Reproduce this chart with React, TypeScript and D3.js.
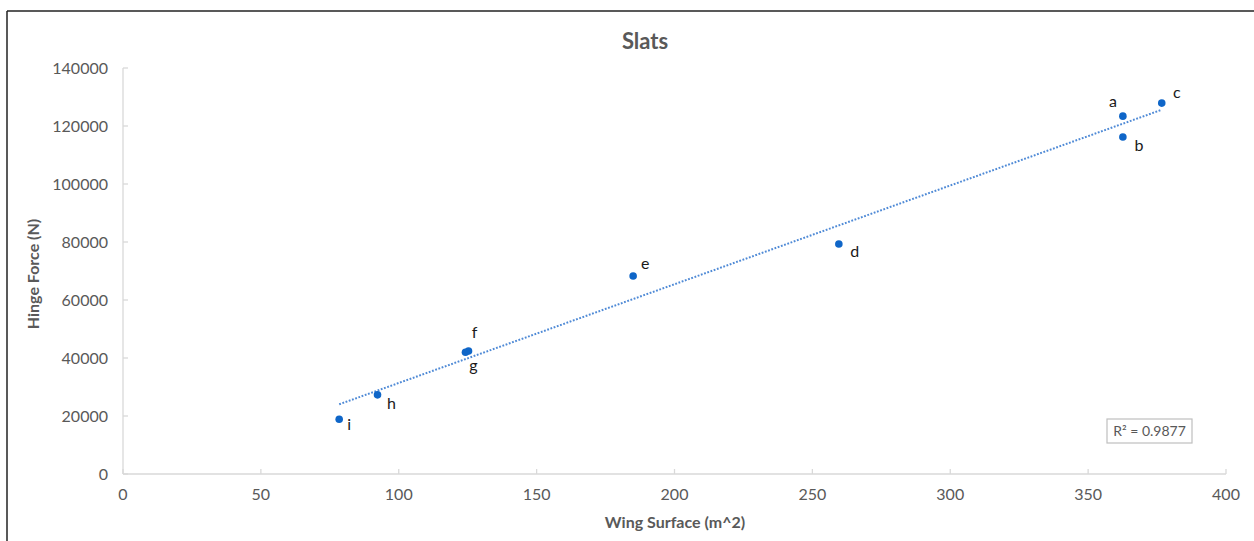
import React from "react";
import * as d3 from "d3";

const labels = ["a", "b", "c", "d", "e", "f", "g", "h", "i"];
const wingSurface = [362.6, 362.6, 376.7, 259.6, 185, 125.3, 124.2, 92.3, 78.4];
const hingeForce = [123400, 116200, 127900, 79300, 68300, 42400, 42000, 27300, 18900];
const xTicks = [0, 50, 100, 150, 200, 250, 300, 350, 400];
const yTicks = [0, 20000, 40000, 60000, 80000, 100000, 120000, 140000];
// label placement relative to point: [dx, dy]
const labelOffsets: [number, number][] = [
  [-10, -9], [16, 14], [15, -5], [16, 13], [12, -7], [6, -13], [8, 19], [14, 14], [10, 11],
];
const r2Text = "R² = 0.9877";

const W = 1254, H = 541;
const FONT = "Lato, 'Open Sans', sans-serif";
const GRAY = "#595959";

export default function App() {
  const x = d3.scaleLinear().domain([0, 400]).range([123, 1226]);
  const y = d3.scaleLinear().domain([0, 140000]).range([474, 68]);

  const pts = labels.map((l, i) => ({ l, x: wingSurface[i], y: hingeForce[i], o: labelOffsets[i] }));
  const mx = d3.mean(wingSurface)!;
  const my = d3.mean(hingeForce)!;
  let sxy = 0, sxx = 0;
  pts.forEach(p => { sxy += (p.x - mx) * (p.y - my); sxx += (p.x - mx) ** 2; });
  const slope = sxy / sxx;
  const icpt = my - slope * mx;
  const [x0, x1] = d3.extent(wingSurface) as [number, number];
  const trend = d3.line<number>().x(v => x(v)).y(v => y(icpt + slope * v))([x0, x1])!;

  return (
    <svg width={W} height={H} style={{ position: "absolute", left: 0, top: 0, background: "#fff" }}>
      <rect x={0} y={0} width={W} height={H} fill="#fff" />
      {/* outer border: top and left visible */}
      <line x1={7} y1={11} x2={W} y2={11} stroke="#222" strokeWidth={1.5} />
      <line x1={7} y1={11} x2={7} y2={H} stroke="#222" strokeWidth={1.5} />

      <text x={645} y={49} textAnchor="middle" fontFamily={FONT} fontWeight="bold" fontSize={22} fill={GRAY}>Slats</text>

      {/* axes */}
      <line x1={x(0)} y1={y(0)} x2={x(400)} y2={y(0)} stroke="#d9d9d9" strokeWidth={1.3} />
      <line x1={x(0)} y1={y(0)} x2={x(0)} y2={y(140000)} stroke="#d9d9d9" strokeWidth={1.3} />
      {xTicks.map(t => (
        <g key={"x" + t}>
          <line x1={x(t)} x2={x(t)} y1={y(0)} y2={y(0) - 5} stroke="#d9d9d9" strokeWidth={1.3} />
          <text x={x(t)} y={y(0) + 26} textAnchor="middle" fontFamily={FONT} fontSize={16} fill={GRAY}>{t}</text>
        </g>
      ))}
      {yTicks.map(t => (
        <g key={"y" + t}>
          <line x1={x(0)} x2={x(0) + 5} y1={y(t)} y2={y(t)} stroke="#d9d9d9" strokeWidth={1.3} />
          <text x={x(0) - 15} y={y(t) + 5.5} textAnchor="end" fontFamily={FONT} fontSize={16} fill={GRAY}>{t}</text>
        </g>
      ))}

      <text x={675} y={528} textAnchor="middle" fontFamily={FONT} fontWeight="bold" fontSize={16} fill={GRAY}>Wing Surface (m^2)</text>
      <text transform="translate(39,274) rotate(-90)" textAnchor="middle" fontFamily={FONT} fontWeight="bold" fontSize={16} fill={GRAY}>Hinge Force (N)</text>

      {/* trendline */}
      <path d={trend} fill="none" stroke="#4f8ad6" strokeWidth={2} strokeDasharray="1.8 1.6" />

      {/* points */}
      {pts.map(p => (
        <g key={p.l}>
          <circle cx={x(p.x)} cy={y(p.y)} r={3.8} fill="#0f66c8" />
          <text x={x(p.x) + p.o[0]} y={y(p.y) + p.o[1]} textAnchor="middle" fontFamily={FONT} fontSize={16} fill="#1a1a1a">{p.l}</text>
        </g>
      ))}

      {/* R² box */}
      <rect x={1107} y={419} width={85} height={24} fill="#fff" stroke="#bfbfbf" strokeWidth={1.2} />
      <text x={1149.5} y={436} textAnchor="middle" fontFamily={FONT} fontSize={14} fill={GRAY}>{r2Text}</text>
    </svg>
  );
}
